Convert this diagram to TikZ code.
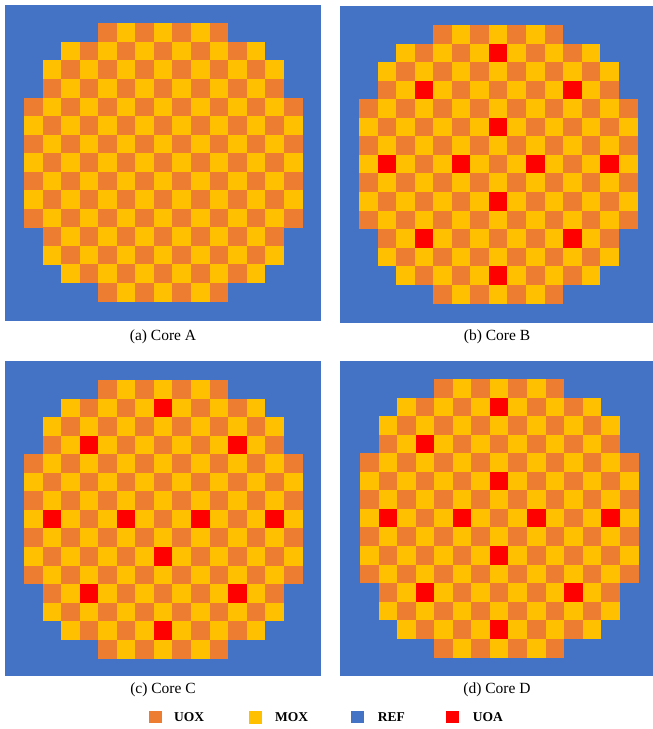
\documentclass[tikz,border=0pt]{standalone}
\usepackage{fontspec}
\setmainfont{Liberation Serif}
\definecolor{uoxc}{HTML}{ED7D31}
\definecolor{moxc}{HTML}{FFC000}
\definecolor{refc}{HTML}{4472C4}
\definecolor{uoac}{HTML}{FF0000}
\def\cw{18.55}
\newcommand\corecells[2]{%
  \foreach \r/\s in {0/4,1/2,2/1,3/1,4/0,5/0,6/0,7/0,8/0,9/0,10/0,11/1,12/1,13/2,14/4}{%
    \pgfmathtruncatemacro\e{14-\s}%
    \foreach \c in {\s,...,\e}{%
      \pgfmathtruncatemacro\p{mod(\r+\c,2)}%
      \ifnum\p=0
        \fill[uoxc] ({#1+\c*\cw},{#2+\r*\cw}) rectangle ++({\cw+0.3},{\cw+0.3});
      \else
        \fill[moxc] ({#1+\c*\cw},{#2+\r*\cw}) rectangle ++({\cw+0.3},{\cw+0.3});
      \fi
    }%
  }%
}
\newcommand\redcells[3]{%
  \foreach \r/\c in {#3}{%
    \fill[uoac] ({#1+\c*\cw},{#2+\r*\cw}) rectangle ++({\cw},{\cw});
  }%
}
\tikzset{
  caption/.style={font=\fontsize{15.5}{18}\selectfont, inner sep=0pt, anchor=center},
  legtext/.style={font=\fontsize{13.5}{16}\selectfont\bfseries, inner sep=0pt, anchor=west},
  legbox/.style={minimum width=12.5pt, minimum height=12.5pt, inner sep=0pt, draw=none}
}
\begin{document}
\begin{tikzpicture}[x=1pt,y=-1pt]
\useasboundingbox (0,0) rectangle (653,729);
\fill[white] (0,0) rectangle (653,729);
% Core A
\fill[refc] (5,5) rectangle (320.7,320.7);
\corecells{24}{23.3}
% Core B
\fill[refc] (340,6) rectangle (653,322.7);
\corecells{359}{25}
\redcells{359}{25}{1/7,3/3,3/11,5/7,7/1,7/5,7/9,7/13,9/7,11/3,11/11,13/7}
% Core C
\fill[refc] (5,360.7) rectangle (321,676);
\corecells{24}{380}
\redcells{24}{380}{1/7,3/3,3/11,7/1,7/5,7/9,7/13,9/7,11/3,11/11,13/7}
% Core D
\fill[refc] (340,360.7) rectangle (653,675.7);
\corecells{360}{379}
\redcells{360}{379}{1/7,3/3,5/7,7/1,7/5,7/9,7/13,9/7,11/3,11/11,13/7}
% captions
\node[caption] (capA) at (163,337) {(a) Core A};
\node[caption] (capB) at (497,337) {(b) Core B};
\node[caption] (capC) at (163,690) {(c) Core C};
\node[caption] (capD) at (497,690) {(d) Core D};
% legend
\node[legbox, fill=uoxc] (kUOX) at (155.5,717) {};
\node[legtext] (tUOX) at (174,717.5) {UOX};
\node[legbox, fill=moxc] (kMOX) at (255.5,717.3) {};
\node[legtext] (tMOX) at (275,717.5) {MOX};
\node[legbox, fill=refc] (kREF) at (357.5,717) {};
\node[legtext] (tREF) at (377.7,717.5) {REF};
\node[legbox, fill=uoac] (kUOA) at (452.5,717) {};
\node[legtext] (tUOA) at (472.7,717.5) {UOA};
\end{tikzpicture}
\end{document}
